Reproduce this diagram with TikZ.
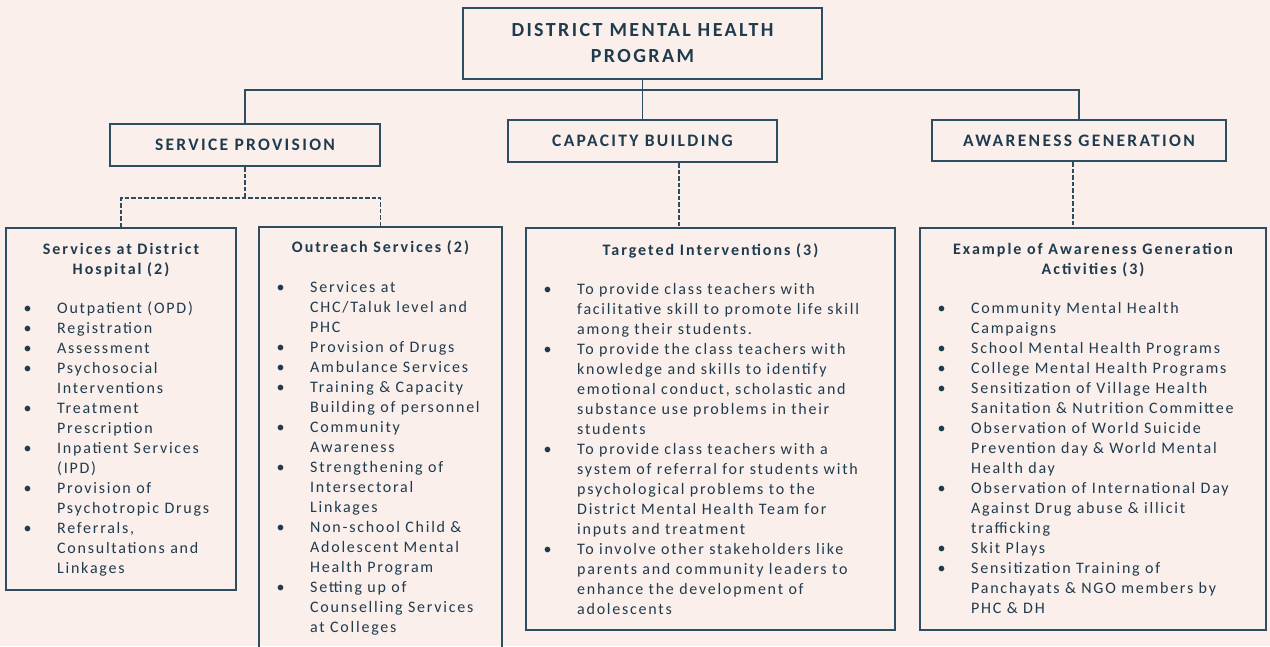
\documentclass[tikz,border=0pt]{standalone}
\usepackage{fontspec}
\setmainfont{Carlito}[LetterSpace=11]
\usepackage{array}
\definecolor{bgcol}{HTML}{FAEFEB}
\definecolor{txtcol}{HTML}{1F3B4E}
\definecolor{bdcol}{HTML}{2E4D61}
\newcommand\lsp[1]{\addfontfeature{LetterSpace=#1}}
\newcommand\bitems[1]{\begin{tabular}[t]{@{}p{33.5pt}@{}l@{}}#1\end{tabular}}
\newcommand\ctitle[1]{\begin{tabular}[t]{@{}c@{}}#1\end{tabular}}
\begin{document}
\begin{tikzpicture}[x=1pt,y=-1pt,
  boxst/.style={draw=bdcol, line width=2pt, rectangle, inner sep=0pt, text=txtcol},
  hbox/.style={boxst, font=\fontsize{17.5}{20}\selectfont\bfseries\lsp{13.3}},
  ttl/.style={inner sep=0pt, text=txtcol, font=\fontsize{16}{20}\selectfont\bfseries\lsp{12.5}, anchor=base},
  lst/.style={inner sep=0pt, text=txtcol, font=\fontsize{16}{20}\selectfont, anchor=base west},
  conn/.style={draw=bdcol, line width=1.6pt},
  dconn/.style={draw=bdcol, line width=1.6pt, dash pattern=on 4.5pt off 2pt}]
\fill[bgcol] (0,0) rectangle (1270,646);
\useasboundingbox (0,0) rectangle (1270,646);

\node[boxst, minimum width=359pt, minimum height=71pt] (top) at (642.5,43.5) {};
\node[inner sep=0pt, text=txtcol, font=\fontsize{20}{26}\selectfont\bfseries\lsp{12}] (toptext) at (642.5,44.2)
  {\begin{tabular}{@{}c@{}}DISTRICT MENTAL HEALTH\\PROGRAM\end{tabular}};

\node[hbox, minimum width=270pt, minimum height=42pt] (sp) at (245,145) {SERVICE PROVISION};
\node[hbox, minimum width=269pt, minimum height=42pt] (cb) at (642.5,141) {CAPACITY BUILDING};
\node[hbox, minimum width=294pt, minimum height=41pt] (ag) at (1079,140.5) {AWARENESS GENERATION};

\node[boxst, minimum width=230pt, minimum height=362pt] (b1) at (121,409) {};
\node[boxst, minimum width=243pt, minimum height=425pt] (b2) at (380.5,439.5) {};
\node[boxst, minimum width=369pt, minimum height=402pt] (b3) at (710.5,429) {};
\node[boxst, minimum width=346pt, minimum height=402pt] (b4) at (1093,429) {};

\node[ttl] (t1) at (121,254) {\ctitle{Services at District\\Hospital (2)}};
\node[ttl] (t2) at (380.5,252) {\ctitle{Outreach Services (2)}};
\node[ttl] (t3) at (710.5,255) {\ctitle{Targeted Interventions (3)}};
\node[ttl] (t4) at (1093,254) {\ctitle{Example of Awareness Generation\\Activities (3)}};

\node[lst] (l1) at (23.5,313) {\bitems{
• & Outpatient (OPD)\\
• & Registration\\
• & Assessment\\
• & Psychosocial\\
  & Interventions\\
• & Treatment\\
  & Prescription\\
• & Inpatient Services\\
  & (IPD)\\
• & Provision of\\
  & Psychotropic Drugs\\
• & Referrals,\\
  & Consultations and\\
  & Linkages}};

\node[lst] (l2) at (276.5,292) {\bitems{
• & Services at\\
  & CHC/Taluk level and\\
  & PHC\\
• & Provision of Drugs\\
• & Ambulance Services\\
• & Training \& Capacity\\
  & Building of personnel\\
• & Community\\
  & Awareness\\
• & Strengthening of\\
  & Intersectoral\\
  & Linkages\\
• & Non-school Child \&\\
  & Adolescent Mental\\
  & Health Program\\
• & Setting up of\\
  & Counselling Services\\
  & at Colleges}};

\node[lst] (l3) at (543.5,294) {\bitems{
• & To provide class teachers with\\
  & facilitative skill to promote life skill\\
  & among their students.\\
• & To provide the class teachers with\\
  & knowledge and skills to identify\\
  & emotional conduct, scholastic and\\
  & substance use problems in their\\
  & students\\
• & To provide class teachers with a\\
  & system of referral for students with\\
  & psychological problems to the\\
  & District Mental Health Team for\\
  & inputs and treatment\\
• & To involve other stakeholders like\\
  & parents and community leaders to\\
  & enhance the development of\\
  & adolescents}};

\node[lst] (l4) at (937.5,313) {\bitems{
• & Community Mental Health\\
  & Campaigns\\
• & School Mental Health Programs\\
• & College Mental Health Programs\\
• & Sensitization of Village Health\\
  & Sanitation \& Nutrition Committee\\
• & Observation of World Suicide\\
  & Prevention day \& World Mental\\
  & Health day\\
• & Observation of International Day\\
  & Against Drug abuse \& illicit\\
  & trafficking\\
• & Skit Plays\\
• & Sensitization Training of\\
  & Panchayats \& NGO members by\\
  & PHC \& DH}};

\coordinate (j) at (642.5,90);
\draw[conn] (top.south) -- (cb.north);
\draw[conn] (sp.north) -- (sp.north |- j) -- (ag.north |- j) -- (ag.north);
\coordinate (d) at (245,198);
\draw[dconn] (sp.south) -- (d);
\draw[dconn] (b1.north) |- (d) -| (b2.north);
\draw[dconn] ([xshift=36.5pt]cb.south) -- ([xshift=36.5pt]cb.south |- b3.north);
\draw[dconn] ([xshift=-6pt]ag.south) -- ([xshift=-6pt]ag.south |- b4.north);
\end{tikzpicture}
\end{document}
